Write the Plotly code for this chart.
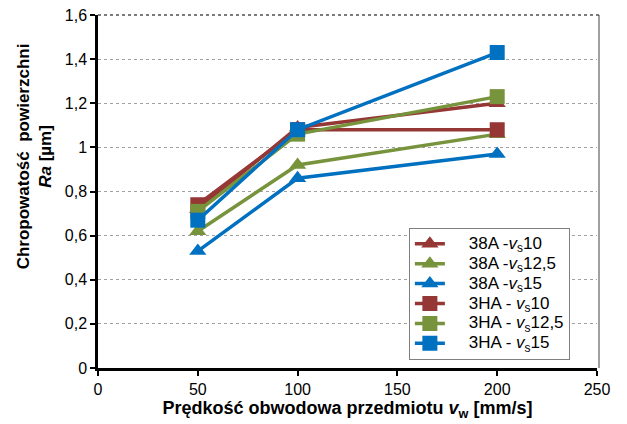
import plotly.graph_objects as go

speeds = [50, 100, 200]
ra_38A_vs10 = [0.72, 1.09, 1.20]
ra_38A_vs125 = [0.62, 0.92, 1.06]
ra_38A_vs15 = [0.53, 0.86, 0.97]
ra_3HA_vs10 = [0.74, 1.08, 1.08]
ra_3HA_vs125 = [0.71, 1.06, 1.23]
ra_3HA_vs15 = [0.67, 1.08, 1.43]

labels = ["38A -<i>v</i><sub>s</sub>10", "38A -<i>v</i><sub>s</sub>12,5", "38A -<i>v</i><sub>s</sub>15",
          "3HA - <i>v</i><sub>s</sub>10", "3HA - <i>v</i><sub>s</sub>12,5", "3HA - <i>v</i><sub>s</sub>15"]
series = [ra_38A_vs10, ra_38A_vs125, ra_38A_vs15, ra_3HA_vs10, ra_3HA_vs125, ra_3HA_vs15]
colors = ["#953735", "#77933C", "#0070C0", "#953735", "#77933C", "#0070C0"]
symbols = ["triangle-up"] * 3 + ["square"] * 3

fig = go.Figure()
for n, s, c, sym in zip(labels, series, colors, symbols):
    fig.add_trace(go.Scatter(x=speeds, y=s,
                             name='<span style="font-size:17px">\u00a0\u00a0\u00a0\u00a0' + n + '</span>',
                             mode="lines+markers",
                             line=dict(color=c, width=3.5),
                             marker=dict(symbol=sym, size=15, color=c)))

fig.update_layout(
    width=627, height=424,
    paper_bgcolor="white", plot_bgcolor="white",
    margin=dict(l=90, r=38, t=7, b=64, autoexpand=False),
    separators=", ",
    font=dict(family="Liberation Sans", size=16, color="black"),
    showlegend=True,
    legend=dict(x=0.623, y=0.397, xanchor="left", yanchor="top",
                bordercolor="#808080", borderwidth=1, bgcolor="white",
                font=dict(size=13), tracegroupgap=0),
    xaxis=dict(range=[0, 250], dtick=50, showline=True, linecolor="black", linewidth=2.5,
               ticks="outside", ticklen=5, tickwidth=1.5, tickcolor="black",
               showgrid=False, zeroline=False, automargin=False, ticklabeloverflow="allow",
               title=dict(text="<b>Prędkość obwodowa przedmiotu <i>v</i><sub>w</sub> [mm/s]</b>",
                          font=dict(size=18), standoff=5)),
    yaxis=dict(range=[0, 1.6], dtick=0.2, showline=True, linecolor="black", linewidth=2.5,
               ticks="outside", ticklen=5, tickwidth=1.5, tickcolor="black",
               showgrid=True, gridcolor="#A0A0A0", griddash="dot", gridwidth=1,
               zeroline=False, automargin=False, ticklabeloverflow="allow"),
    annotations=[dict(text="<b>Chropowatość  powierzchni<br><i>Ra</i> [µm]</b>",
                      xref="paper", yref="paper", x=-0.128, y=0.60,
                      xanchor="center", yanchor="middle", textangle=-90,
                      showarrow=False, font=dict(size=17))],
    shapes=[dict(type="line", xref="paper", yref="paper", x0=1.004, x1=1.004, y0=0, y1=1,
                 line=dict(color="#A0A0A0", width=2)),
            dict(type="line", xref="paper", yref="paper", x0=0, x1=1.004, y0=1, y1=1,
                 line=dict(color="#505050", width=1.5, dash="dot"))]
)

fig.write_html("out.html")
